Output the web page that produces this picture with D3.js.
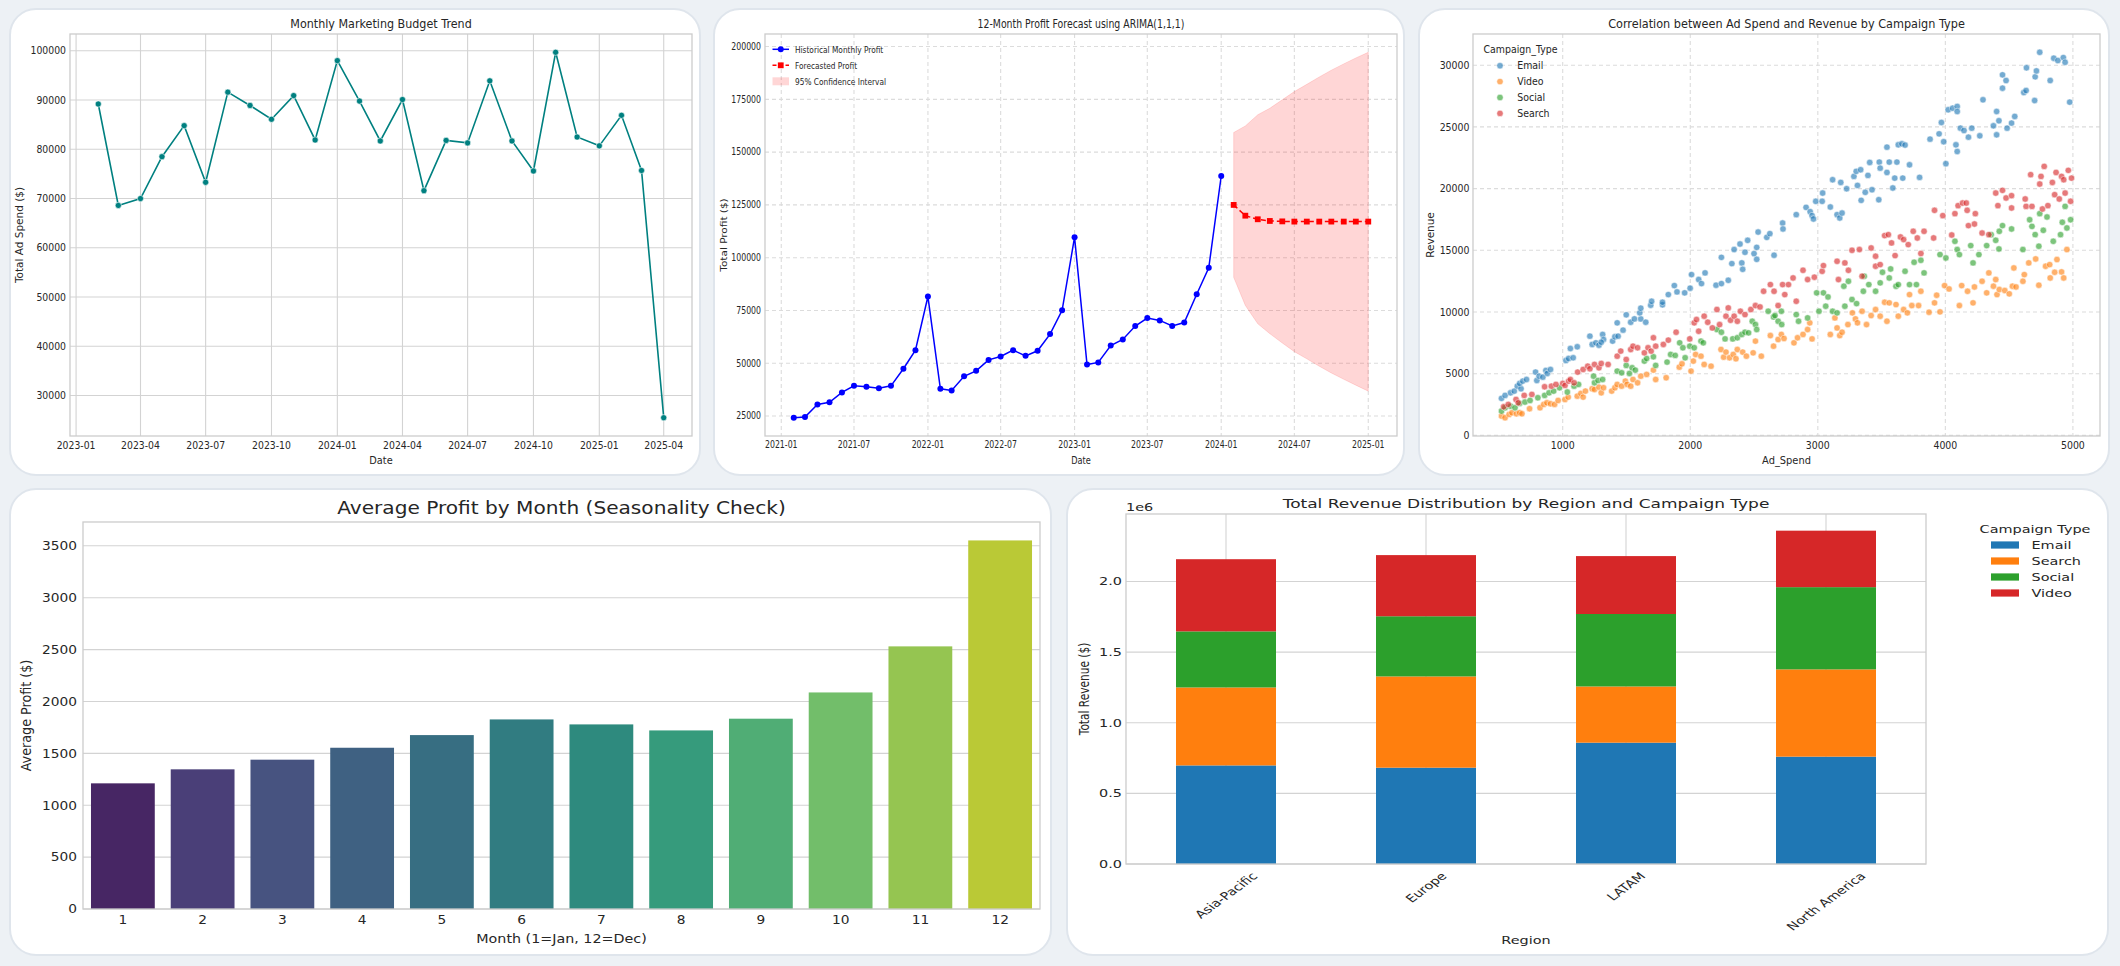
<!DOCTYPE html>
<html><head><meta charset="utf-8">
<script src="https://cdn.jsdelivr.net/npm/d3@7"></script>
<style>
html,body{margin:0;padding:0;background:#edf1f5;}
svg{display:block;font-family:"DejaVu Sans",sans-serif;}
</style></head><body>
<svg id="c" width="2120" height="966"></svg>
<script>
// ---------- DATA ----------
const budgetMonths = ["2023-02","2023-03","2023-04","2023-05","2023-06","2023-07","2023-08","2023-09","2023-10","2023-11","2023-12","2024-01","2024-02","2024-03","2024-04","2024-05","2024-06","2024-07","2024-08","2024-09","2024-10","2024-11","2024-12","2025-01","2025-02","2025-03","2025-04"];
const budgetSpend = [89200,68600,70000,78500,84800,73300,91600,88900,86100,90900,81900,98000,89800,81700,90100,71600,81800,81300,93900,81700,75600,99700,82500,80700,86900,75700,25500];
const budgetXTicks = ["2023-01","2023-04","2023-07","2023-10","2024-01","2024-04","2024-07","2024-10","2025-01","2025-04"];
const budgetYTicks = [30000,40000,50000,60000,70000,80000,90000,100000];

const profitMonths = ["2021-02","2021-03","2021-04","2021-05","2021-06","2021-07","2021-08","2021-09","2021-10","2021-11","2021-12","2022-01","2022-02","2022-03","2022-04","2022-05","2022-06","2022-07","2022-08","2022-09","2022-10","2022-11","2022-12","2023-01","2023-02","2023-03","2023-04","2023-05","2023-06","2023-07","2023-08","2023-09","2023-10","2023-11","2023-12","2024-01"];
const profitValues = [24200,24500,30500,31500,36200,39300,38900,38200,39300,47400,56200,81600,37900,37100,43800,46400,51600,53200,56200,53500,55900,63800,75100,109700,49400,50400,58400,61300,67600,71400,70300,67700,69300,82700,95200,138700];
const forecastMonths = ["2024-02","2024-03","2024-04","2024-05","2024-06","2024-07","2024-08","2024-09","2024-10","2024-11","2024-12","2025-01"];
const forecastValues = [125000,119900,118200,117400,117200,117100,117100,117100,117100,117100,117100,117100];
const ciUpper = [159300,162400,167700,170800,174800,178700,182100,185600,188800,191800,194600,197300];
const ciLower = [90700,77400,68700,64000,59600,55500,52100,48600,45400,42400,39600,36800];
const profitXTicks = ["2021-01","2021-07","2022-01","2022-07","2023-01","2023-07","2024-01","2024-07","2025-01"];
const profitYTicks = [25000,50000,75000,100000,125000,150000,175000,200000];

const scatterTypes = ["Email","Video","Social","Search"];
const emailPts = [[520,3000],[548,3240],[591,3450],[620,3590],[644,3990],[673,3780],[662,4210],[687,4400],[716,4530],[787,5130],[797,4450],[815,4800],[844,4720],[868,5260],[879,5020],[904,5340],[1025,6070],[1046,6230],[1082,6290],[1114,7180],[1060,7040],[1213,8040],[1231,7370],[1260,7500],[1284,7310],[1313,8180],[1320,7770],[1302,7550],[1391,7640],[1409,7990],[1434,8040],[1427,9120],[1473,8530],[1498,9770],[1533,9170],[1562,9440],[1612,9440],[1604,9930],[1612,10310],[1651,9170],[1690,10550],[1697,10870],[1782,10580],[1782,10790],[1828,11410],[1875,12140],[1896,11630],[1956,11550],[1999,11930],[2010,13030],[2066,12630],[2088,12300],[2116,13170],[2202,12170],[2244,12300],[2244,14430],[2298,12570],[2326,13920],[2344,15060],[2390,15510],[2404,13980],[2411,13460],[2429,14840],[2450,15810],[2500,14730],[2521,14270],[2521,15240],[2532,16480],[2600,16050],[2624,16350],[2657,14600],[2724,17210],[2727,16730],[2831,17890],[2908,18480],[2940,18130],[2955,17810],[2966,17540],[2984,18970],[3038,19640],[3034,18970],[3098,18510],[3116,20720],[3151,17890],[3172,17620],[3190,18020],[3180,20500],[3226,19990],[3283,20990],[3301,21400],[3336,21530],[3311,20260],[3340,19050],[3372,19700],[3393,21070],[3407,22120],[3425,19910],[3482,22150],[3489,21660],[3478,19100],[3542,21310],[3542,23360],[3560,22150],[3588,20050],[3603,20850],[3620,22150],[3631,23550],[3659,23630],[3666,20850],[3684,23530],[3719,21930],[3798,20910],[3880,24010],[3951,24440],[3969,25360],[3987,23800],[4004,22020],[4022,26390],[4057,26520],[4083,23550],[4093,23010],[4093,26660],[4093,26250],[4118,24900],[4146,24710],[4181,24170],[4207,24900],[4270,24280],[4295,27200],[4377,25090],[4402,26250],[4402,24360],[4420,25500],[4448,29220],[4448,28140],[4476,28760],[4484,24900],[4519,25310],[4544,25850],[4615,27790],[4633,27950],[4636,29790],[4700,27140],[4704,29060],[4714,29540],[4740,31050],[4822,28760],[4850,30570],[4882,30380],[4925,30620],[4939,30240],[4975,27010]];
const videoPts = [[520,1565],[548,1430],[580,1700],[602,1835],[637,1750],[662,1835],[680,1750],[740,2160],[822,2240],[851,2510],[876,2640],[904,2560],[936,2510],[964,2830],[1018,2910],[1043,3100],[1114,3180],[1142,3400],[1160,3100],[1178,3590],[1231,3780],[1249,3720],[1284,3910],[1302,3450],[1320,3860],[1384,3590],[1409,3860],[1427,4130],[1462,3990],[1491,4400],[1505,4130],[1533,3990],[1551,4530],[1587,4260],[1612,4800],[1658,4940],[1711,5290],[1729,4530],[1811,4670],[1914,5530],[1935,5800],[2006,5210],[2024,6020],[2042,6560],[2084,6420],[2109,5750],[2163,5610],[2241,6960],[2262,6340],[2280,6750],[2308,6290],[2337,6560],[2358,6210],[2369,6960],[2411,6750],[2440,6420],[2493,6690],[2511,7640],[2557,6420],[2628,8090],[2653,7230],[2689,7770],[2714,8180],[2735,7850],[2813,7500],[2841,7910],[2884,8180],[2920,8580],[2937,9120],[2955,7820],[3098,8180],[3134,9520],[3151,8710],[3172,8090],[3190,8360],[3236,8980],[3271,9930],[3295,9440],[3311,9120],[3347,10060],[3382,8980],[3418,9710],[3453,10200],[3489,9660],[3524,10790],[3542,9250],[3560,10740],[3613,10600],[3631,9660],[3673,10200],[3702,9930],[3719,11410],[3737,10520],[3790,10520],[3808,11680],[3872,9980],[3915,10740],[3932,11360],[3958,10010],[3994,12140],[4029,11870],[4110,10520],[4128,12140],[4174,11680],[4217,10740],[4228,12030],[4288,12490],[4324,11550],[4341,13170],[4377,12090],[4395,12630],[4405,11410],[4423,11820],[4466,11740],[4501,11470],[4526,12090],[4537,13570],[4554,12030],[4608,12490],[4619,13030],[4654,13980],[4708,14300],[4733,12170],[4786,13710],[4818,13840],[4822,12760],[4857,13220],[4875,14250],[4911,13250],[4928,12760],[4953,15060]];
const socialPts = [[520,1970],[548,2240],[591,2370],[626,2240],[662,2590],[704,2700],[744,2830],[805,3050],[858,3240],[893,3450],[929,3590],[975,3860],[1036,3510],[1089,3990],[1124,4130],[1242,4800],[1249,4260],[1277,4450],[1313,4530],[1427,5210],[1462,5070],[1498,5670],[1523,5020],[1544,5480],[1569,5290],[1640,6020],[1658,6230],[1711,6370],[1729,5670],[1818,5940],[1846,6560],[1882,6480],[1917,7500],[1942,7100],[1960,6290],[1996,7230],[2031,7100],[2084,7640],[2102,7500],[2209,8580],[2244,8360],[2273,7820],[2333,7820],[2369,7910],[2404,8180],[2429,8360],[2457,8310],[2486,9250],[2511,8980],[2521,8580],[2611,10060],[2653,9600],[2664,9710],[2689,9250],[2717,8980],[2714,10060],[2831,9790],[2849,9250],[2920,9520],[2991,11550],[3009,10060],[3044,11550],[3062,10470],[3080,11220],[3116,10060],[3151,9930],[3204,12090],[3212,10470],[3240,12490],[3268,11010],[3304,10680],[3357,11680],[3364,12900],[3400,12220],[3453,11680],[3489,12360],[3507,13220],[3560,12760],[3571,13490],[3613,12090],[3631,12220],[3684,13300],[3719,12220],[3755,14030],[3773,12220],[3808,14190],[3833,13170],[3958,14650],[4004,14380],[4075,15730],[4093,15060],[4110,14650],[4199,15380],[4217,13980],[4263,14650],[4324,15380],[4359,16270],[4395,15810],[4420,15110],[4423,16540],[4448,17000],[4519,16730],[4608,15060],[4661,17480],[4679,16940],[4704,16270],[4733,15330],[4740,17970],[4768,16620],[4797,17700],[4846,15730],[4903,16270],[4917,17270],[4939,18560],[4953,16810],[4982,17480]];
const searchPts = [[537,2320],[573,2510],[634,2910],[651,2640],[698,3240],[758,3320],[858,3940],[911,3990],[947,4130],[1000,4210],[1018,4050],[1046,4400],[1060,4530],[1089,4260],[1117,5130],[1160,5340],[1196,5610],[1213,5400],[1249,5750],[1284,5480],[1302,5830],[1356,5750],[1427,6420],[1455,6830],[1498,6150],[1533,6960],[1551,7230],[1587,7100],[1640,6690],[1669,7100],[1693,6830],[1711,7910],[1729,7230],[1789,7370],[1828,7720],[1889,8360],[1996,7820],[2031,9120],[2049,9390],[2066,8440],[2109,9660],[2137,9170],[2173,8710],[2209,10200],[2230,8980],[2280,9660],[2298,10330],[2316,9330],[2344,9660],[2369,9250],[2393,10060],[2429,9790],[2475,10200],[2511,10520],[2547,10410],[2575,11680],[2628,12220],[2657,11680],[2689,10520],[2724,12220],[2741,11410],[2770,12220],[2806,12760],[2831,10870],[2884,13380],[2920,12630],[2973,12820],[3034,13300],[3044,13760],[3151,14110],[3162,12630],[3212,13980],[3240,13380],[3268,15000],[3326,15060],[3347,12900],[3418,15190],[3453,14520],[3453,13710],[3489,13840],[3524,16190],[3553,16270],[3578,15600],[3606,14570],[3648,16080],[3673,15870],[3709,15460],[3748,16540],[3780,16000],[3808,14740],[3833,16540],[3908,16000],[3915,18240],[3980,17810],[4050,16240],[4075,17970],[4100,18620],[4135,18830],[4164,18830],[4171,18240],[4181,17000],[4228,17130],[4235,17970],[4288,16400],[4341,16270],[4395,19640],[4412,18620],[4448,19860],[4476,19240],[4519,19430],[4519,18430],[4626,19160],[4633,18560],[4669,21130],[4679,18560],[4740,20370],[4750,20990],[4761,18350],[4775,21800],[4804,18620],[4839,20500],[4857,19510],[4868,21310],[4893,19160],[4911,20990],[4928,20720],[4939,19640],[4964,21480],[4982,18970],[4989,20850]];
const scatterXTicks = [1000,2000,3000,4000,5000];
const scatterYTicks = [0,5000,10000,15000,20000,25000,30000];

const monthLabels = ["1","2","3","4","5","6","7","8","9","10","11","12"];
const avgProfit = [1211,1346,1439,1554,1676,1827,1779,1721,1834,2087,2531,3552];
const profitBarTicks = [0,500,1000,1500,2000,2500,3000,3500];

const regions = ["Asia-Pacific","Europe","LATAM","North America"];
const campaignKeys = ["Email","Search","Social","Video"];
const revEmail  = [698000,682000,859000,760000];
const revSearch = [552000,646000,398000,618000];
const revSocial = [397000,426000,513000,582000];
const revVideo  = [511000,433000,410000,400000];
const revTicks = [0,0.5,1.0,1.5,2.0];

// ---------- HELPERS ----------
const svg = d3.select("#c");
const pm = d3.timeParse("%Y-%m");
const TXT = "#262626";

function txt(g, x, y, s, o = {}) {
  return g.append("text")
    .attr("transform", `translate(${x},${y}) scale(${o.sx ?? 1},1) rotate(${o.rot ?? 0})`)
    .attr("font-size", o.size ?? 10)
    .attr("text-anchor", o.anchor ?? "middle")
    .attr("dominant-baseline", o.base ?? "central")
    .attr("fill", o.fill ?? TXT)
    .text(s);
}
function frame(g, a) {
  g.append("rect").attr("x", a.l).attr("y", a.t).attr("width", a.r - a.l).attr("height", a.b - a.t)
    .attr("fill", "none").attr("stroke", "#cccccc").attr("stroke-width", 1.3);
}
function vgrid(g, a, xs, dash) {
  g.selectAll(null).data(xs).join("line").attr("x1", d => d).attr("x2", d => d).attr("y1", a.t).attr("y2", a.b)
    .attr("stroke", dash ? "#dcdcdc" : "#d3d3d3").attr("stroke-width", 1.1).attr("stroke-dasharray", dash ? "4,3" : null);
}
function hgrid(g, a, ys, dash) {
  g.selectAll(null).data(ys).join("line").attr("y1", d => d).attr("y2", d => d).attr("x1", a.l).attr("x2", a.r)
    .attr("stroke", dash ? "#dcdcdc" : "#d3d3d3").attr("stroke-width", 1.1).attr("stroke-dasharray", dash ? "4,3" : null);
}
function padExt(vals, p = 0.05) { const [a, b] = d3.extent(vals); const d = (b - a) * p; return [a - d, b + d]; }

// ---------- PANELS ----------
const panels = [[10,9,690,466],[714,9,690,466],[1419,9,690,466],[10,489,1041,466],[1067,489,1041,466]];
svg.selectAll("rect.panel").data(panels).join("rect").attr("class","panel")
  .attr("x", d => d[0]).attr("y", d => d[1]).attr("width", d => d[2]).attr("height", d => d[3])
  .attr("rx", 26).attr("fill", "#ffffff").attr("stroke", "#dfe5ec").attr("stroke-width", 2);

// ---------- CHART 1: Monthly budget ----------
{
  const a = {l:70, r:692, t:34, b:436}, S = 0.93, g = svg.append("g");
  const dts = budgetMonths.map(pm);
  const x = d3.scaleTime().domain(padExt(dts.map(Number)).map(v => new Date(v))).range([a.l, a.r]);
  const y = d3.scaleLinear().domain(padExt(budgetSpend)).range([a.b, a.t]);
  vgrid(g, a, budgetXTicks.map(d => x(pm(d))));
  hgrid(g, a, budgetYTicks.map(y));
  frame(g, a);
  g.append("path").datum(budgetSpend).attr("fill","none").attr("stroke","#008080").attr("stroke-width",1.6)
    .attr("d", d3.line().x((d,i) => x(dts[i])).y(d => y(d)));
  g.selectAll("circle").data(budgetSpend).join("circle").attr("cx",(d,i)=>x(dts[i])).attr("cy",d=>y(d))
    .attr("r",3.1).attr("fill","#008080").attr("stroke","#ffffff").attr("stroke-width",0.6);
  budgetXTicks.forEach(d => txt(g, x(pm(d)), 445, d, {sx:S}));
  budgetYTicks.forEach(v => txt(g, a.l - 4, y(v), String(v), {sx:S, anchor:"end"}));
  txt(g, (a.l + a.r)/2, 24, "Monthly Marketing Budget Trend", {size:12, sx:S});
  txt(g, (a.l + a.r)/2, 460, "Date", {size:10.5, sx:S});
  txt(g, 20, (a.t + a.b)/2, "Total Ad Spend ($)", {size:10.5, sx:S, rot:-90});
}

// ---------- CHART 2: ARIMA ----------
{
  const a = {l:765, r:1397, t:34, b:436}, S = 0.78, g = svg.append("g");
  const hd = profitMonths.map(pm), fd = forecastMonths.map(pm);
  const x = d3.scaleTime().domain(padExt(hd.concat(fd).map(Number)).map(v => new Date(v))).range([a.l, a.r]);
  const y = d3.scaleLinear().domain(padExt(profitValues.concat(forecastValues, ciUpper, ciLower))).range([a.b, a.t]);
  vgrid(g, a, profitXTicks.map(d => x(pm(d))), true);
  hgrid(g, a, profitYTicks.map(y), true);
  frame(g, a);
  g.append("path").datum(forecastMonths).attr("fill","#ff0000").attr("fill-opacity",0.16)
    .attr("stroke","#ff0000").attr("stroke-opacity",0.12)
    .attr("d", d3.area().x((d,i)=>x(fd[i])).y0((d,i)=>y(ciLower[i])).y1((d,i)=>y(ciUpper[i])));
  g.append("path").datum(profitValues).attr("fill","none").attr("stroke","#0000ff").attr("stroke-width",1.5)
    .attr("d", d3.line().x((d,i)=>x(hd[i])).y(d=>y(d)));
  g.selectAll("circle.h").data(profitValues).join("circle").attr("cx",(d,i)=>x(hd[i])).attr("cy",d=>y(d))
    .attr("r",3).attr("fill","#0000ff");
  g.append("path").datum(forecastValues).attr("fill","none").attr("stroke","#ff0000").attr("stroke-width",1.5)
    .attr("stroke-dasharray","5,3").attr("d", d3.line().x((d,i)=>x(fd[i])).y(d=>y(d)));
  g.selectAll("rect.f").data(forecastValues).join("rect").attr("x",(d,i)=>x(fd[i])-2.9).attr("y",d=>y(d)-2.9)
    .attr("width",5.8).attr("height",5.8).attr("fill","#ff0000");
  profitXTicks.forEach(d => txt(g, x(pm(d)), 445, d, {sx:S}));
  profitYTicks.forEach(v => txt(g, a.l - 4, y(v), String(v), {sx:S, anchor:"end"}));
  txt(g, (a.l + a.r)/2, 24, "12-Month Profit Forecast using ARIMA(1,1,1)", {size:12, sx:S});
  txt(g, (a.l + a.r)/2, 460, "Date", {size:10.5, sx:S});
  txt(g, 723.5, (a.t + a.b)/2, "Total Profit ($)", {size:10.5, sx:S, rot:-90});
  const lx0 = 772.5, lx1 = 789, tx = 795;
  g.append("line").attr("x1",lx0).attr("x2",lx1).attr("y1",49.3).attr("y2",49.3).attr("stroke","#0000ff").attr("stroke-width",1.5);
  g.append("circle").attr("cx",(lx0+lx1)/2).attr("cy",49.3).attr("r",3).attr("fill","#0000ff");
  txt(g, tx, 49.3, "Historical Monthly Profit", {size:9.5, sx:S, anchor:"start"});
  g.append("line").attr("x1",lx0).attr("x2",lx1).attr("y1",65.3).attr("y2",65.3).attr("stroke","#ff0000").attr("stroke-width",1.5).attr("stroke-dasharray","4,2.5");
  g.append("rect").attr("x",(lx0+lx1)/2-2.9).attr("y",62.4).attr("width",5.8).attr("height",5.8).attr("fill","#ff0000");
  txt(g, tx, 65.3, "Forecasted Profit", {size:9.5, sx:S, anchor:"start"});
  g.append("rect").attr("x",lx0).attr("y",77.3).attr("width",lx1-lx0).attr("height",8).attr("fill","#ff0000").attr("fill-opacity",0.16);
  txt(g, tx, 81.3, "95% Confidence Interval", {size:9.5, sx:S, anchor:"start"});
}

// ---------- CHART 3: Scatter ----------
{
  const a = {l:1473, r:2100, t:34, b:436}, S = 0.94, g = svg.append("g");
  const series = [emailPts, videoPts, socialPts, searchPts];
  const colors = ["#1f77b4","#ff7f0e","#2ca02c","#d62728"];
  const all = series.flat();
  const x = d3.scaleLinear().domain(padExt(all.map(d=>d[0]))).range([a.l, a.r]);
  const y = d3.scaleLinear().domain(padExt(all.map(d=>d[1]))).range([a.b, a.t]);
  vgrid(g, a, scatterXTicks.map(x), true);
  hgrid(g, a, scatterYTicks.map(y), true);
  frame(g, a);
  series.forEach((pts, k) => {
    g.append("g").selectAll("circle").data(pts).join("circle").attr("cx",d=>x(d[0])).attr("cy",d=>y(d[1]))
      .attr("r",3.2).attr("fill",colors[k]).attr("fill-opacity",0.62).attr("stroke","#ffffff").attr("stroke-width",0.5);
  });
  scatterXTicks.forEach(v => txt(g, x(v), 445, String(v), {sx:S}));
  scatterYTicks.forEach(v => txt(g, a.l - 3.5, y(v), String(v), {sx:S, anchor:"end"}));
  txt(g, (a.l + a.r)/2, 24, "Correlation between Ad Spend and Revenue by Campaign Type", {size:12, sx:S});
  txt(g, (a.l + a.r)/2, 460, "Ad_Spend", {size:10.5, sx:S});
  txt(g, 1430.5, (a.t + a.b)/2, "Revenue", {size:10.5, sx:S, rot:-90});
  txt(g, 1520.5, 49.3, "Campaign_Type", {size:10, sx:S});
  scatterTypes.forEach((s, k) => {
    const yy = 65.7 + k * 15.9;
    g.append("circle").attr("cx",1500).attr("cy",yy).attr("r",3.2).attr("fill",colors[k]).attr("fill-opacity",0.62).attr("stroke","#fff").attr("stroke-width",0.5);
    txt(g, 1517.3, yy, s, {size:10, sx:S, anchor:"start"});
  });
}

// ---------- CHART 4: Avg profit by month ----------
{
  const a = {l:83, r:1040, t:522, b:909}, S = 1.1, g = svg.append("g");
  const x = d3.scaleBand().domain(monthLabels).range([a.l, a.r]).paddingInner(0.2).paddingOuter(0.1);
  const y = d3.scaleLinear().domain([0, d3.max(avgProfit) * 1.05]).range([a.b, a.t]);
  hgrid(g, a, profitBarTicks.map(y));
  const n = monthLabels.length;
  const col = i => { const c = d3.hsl(d3.interpolateViridis((i + 1) / (n + 1))); c.s *= 0.75; return c.formatHex(); };
  g.selectAll("rect.bar").data(avgProfit).join("rect").attr("x",(d,i)=>x(monthLabels[i])).attr("width",x.bandwidth())
    .attr("y",d=>y(d)).attr("height",d=>a.b - y(d)).attr("fill",(d,i)=>col(i));
  frame(g, a);
  monthLabels.forEach(m => txt(g, x(m) + x.bandwidth()/2, 920, m, {size:12.5, sx:S}));
  profitBarTicks.forEach(v => txt(g, a.l - 6, y(v), String(v), {size:12.5, sx:S, anchor:"end"}));
  txt(g, (a.l + a.r)/2, 508, "Average Profit by Month (Seasonality Check)", {size:18.3, sx:S});
  txt(g, (a.l + a.r)/2, 938, "Month (1=Jan, 12=Dec)", {size:13, sx:S});
  txt(g, 26, (a.t + a.b)/2, "Average Profit ($)", {size:12.75, sx:S, rot:-90});
}

// ---------- CHART 5: Stacked revenue ----------
{
  const a = {l:1126, r:1926, t:514, b:864}, S = 1.36, g = svg.append("g");
  const colors = {Email:"#1f77b4", Search:"#ff7f0e", Social:"#2ca02c", Video:"#d62728"};
  const rows = regions.map((r,i) => ({region:r, Email:revEmail[i]/1e6, Search:revSearch[i]/1e6, Social:revSocial[i]/1e6, Video:revVideo[i]/1e6}));
  const stack = d3.stack().keys(campaignKeys)(rows);
  const maxT = d3.max(rows, r => campaignKeys.reduce((s,k)=>s+r[k],0));
  const x = d3.scaleBand().domain(regions).range([a.l, a.r]).paddingInner(0.5).paddingOuter(0.25);
  const y = d3.scaleLinear().domain([0, maxT * 1.05]).range([a.b, a.t]);
  hgrid(g, a, revTicks.map(y));
  vgrid(g, a, regions.map(r => x(r) + x.bandwidth()/2));
  stack.forEach(layer => {
    g.append("g").selectAll("rect").data(layer).join("rect").attr("x", d => x(d.data.region)).attr("width", x.bandwidth())
      .attr("y", d => y(d[1])).attr("height", d => y(d[0]) - y(d[1])).attr("fill", colors[layer.key]);
  });
  frame(g, a);
  revTicks.forEach(v => txt(g, a.l - 4, y(v), v.toFixed(1), {size:10.6, sx:S, anchor:"end"}));
  txt(g, a.l, 507, "1e6", {size:10.6, sx:S, anchor:"start"});
  txt(g, (a.l + a.r)/2, 504, "Total Revenue Distribution by Region and Campaign Type", {size:12.5, sx:S});
  regions.forEach(r => {
    const t = txt(g, 0, 0, r, {size:10.6});
    const L = t.node().getComputedTextLength();
    const H = (L + 12) * Math.SQRT1_2;
    t.attr("transform", `translate(${x(r) + x.bandwidth()/2},${a.b + 6 + H/2}) scale(${S},1) rotate(-45)`);
  });
  txt(g, (a.l + a.r)/2, 940, "Region", {size:10.6, sx:S});
  txt(g, 1083.7, (a.t + a.b)/2, "Total Revenue ($)", {size:10.6, sx:S, rot:-90});
  txt(g, 2035, 529.3, "Campaign Type", {size:10.6, sx:S});
  campaignKeys.forEach((k, i) => {
    const yy = 545 + i * 16;
    g.append("rect").attr("x",1991).attr("y",yy-3.6).attr("width",28).attr("height",7.2).attr("fill",colors[k]);
    txt(g, 2031.5, yy, k, {size:10.6, sx:S, anchor:"start"});
  });
}
</script>
</body></html>
